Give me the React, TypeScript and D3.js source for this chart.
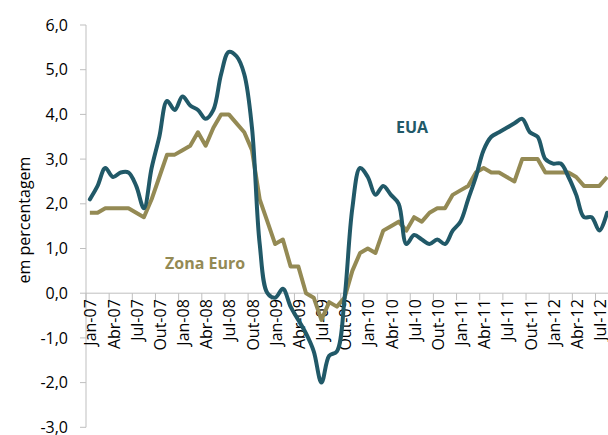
import React from "react";
import * as d3 from "d3";

const months: string[] = (() => {
  const names = ["Jan", "Fev", "Mar", "Abr", "Mai", "Jun", "Jul", "Ago", "Set", "Out", "Nov", "Dez"];
  const out: string[] = [];
  for (let y = 7; y <= 12; y++) {
    for (let m = 0; m < 12; m++) {
      out.push(`${names[m]}-${String(y).padStart(2, "0")}`);
    }
  }
  return out.slice(0, 68); // Jan-07 .. Ago-12
})();

const eua: number[] = [
  2.1, 2.4, 2.8, 2.6, 2.7, 2.7, 2.4, 1.9, 2.8, 3.5, 4.3, 4.1,
  4.4, 4.2, 4.1, 3.9, 4.1, 4.9, 5.4, 5.3, 4.9, 3.7, 1.1, 0.0,
  -0.1, 0.1, -0.3, -0.6, -0.9, -1.3, -2.0, -1.4, -1.3, -0.1, 1.9, 2.8,
  2.6, 2.2, 2.4, 2.2, 2.0, 1.1, 1.3, 1.2, 1.1, 1.2, 1.1, 1.4,
  1.6, 2.1, 2.6, 3.2, 3.5, 3.6, 3.7, 3.8, 3.9, 3.6, 3.5, 3.0,
  2.9, 2.9, 2.6, 2.2, 1.7, 1.7, 1.4, 1.8,
];

const zonaEuro: number[] = [
  1.8, 1.8, 1.9, 1.9, 1.9, 1.9, 1.8, 1.7, 2.1, 2.6, 3.1, 3.1,
  3.2, 3.3, 3.6, 3.3, 3.7, 4.0, 4.0, 3.8, 3.6, 3.2, 2.1, 1.6,
  1.1, 1.2, 0.6, 0.6, 0.0, -0.1, -0.6, -0.2, -0.3, -0.1, 0.5, 0.9,
  1.0, 0.9, 1.4, 1.5, 1.6, 1.4, 1.7, 1.6, 1.8, 1.9, 1.9, 2.2,
  2.3, 2.4, 2.7, 2.8, 2.7, 2.7, 2.6, 2.5, 3.0, 3.0, 3.0, 2.7,
  2.7, 2.7, 2.7, 2.6, 2.4, 2.4, 2.4, 2.6,
];

const yTicks: number[] = [-3, -2, -1, 0, 1, 2, 3, 4, 5, 6];
const xLabels: string[] = months.filter((_, i) => i % 3 === 0);

const COLOR_EUA = "#215968";
const COLOR_EURO = "#948A54";
const AXIS = "#bfbfbf";
const FONT = "'Open Sans', sans-serif";

export default function App() {
  const W = 608;
  const H = 435;
  const x0 = 86;
  const step = 7.72;
  const x = d3.scaleBand<string>().domain(months).range([x0, x0 + months.length * step]).padding(0);
  const y = d3.scaleLinear().domain([-3, 6]).range([427.3, 25]);
  const cx = (i: number) => (x(months[i]) as number) + x.bandwidth() / 2;

  const lineEuro = d3
    .line<number>()
    .x((_, i) => cx(i))
    .y((d) => y(d));
  const lineEua = d3
    .line<number>()
    .x((_, i) => cx(i))
    .y((d) => y(d))
    .curve(d3.curveCatmullRom.alpha(0.5));

  const fmt = (v: number) => v.toFixed(1).replace(".", ",");

  return (
    <svg
      width={W}
      height={H}
      style={{ position: "absolute", left: 0, top: 0, background: "#fff" }}
      fontFamily={FONT}
    >
      {/* y axis */}
      <line x1={x0} x2={x0} y1={y(6)} y2={y(-3)} stroke={AXIS} strokeWidth={1} />
      {yTicks.map((t) => (
        <g key={t}>
          <line x1={x0 - 6} x2={x0} y1={y(t)} y2={y(t)} stroke={AXIS} strokeWidth={1} />
          <text x={68} y={y(t)} dy="0.35em" textAnchor="end" fontSize={16} fill="#000">
            {fmt(t)}
          </text>
        </g>
      ))}
      <text
        transform={`translate(30,${220}) rotate(-90)`}
        textAnchor="middle"
        fontSize={16}
        fill="#000"
      >
        em percentagem
      </text>

      {/* zero line / x axis */}
      <line x1={x0} x2={W} y1={y(0)} y2={y(0)} stroke={AXIS} strokeWidth={1} />
      {months.map((m, i) =>
        i % 3 === 0 ? (
          <line
            key={m}
            x1={x(m) as number}
            x2={x(m) as number}
            y1={y(0)}
            y2={y(0) + 7}
            stroke={AXIS}
            strokeWidth={1}
          />
        ) : null
      )}
      {xLabels.map((m) => {
        const px = (x(m) as number) + x.bandwidth() / 2 + 1;
        const py = y(0) + 6;
        return (
          <text
            key={m}
            transform={`translate(${px},${py}) rotate(-90)`}
            textAnchor="end"
            dy="0.35em"
            fontSize={16}
            fill="#000"
          >
            {m}
          </text>
        );
      })}

      {/* series */}
      <path d={lineEuro(zonaEuro) || ""} fill="none" stroke={COLOR_EURO} strokeWidth={4} strokeLinejoin="round" />
      <path d={lineEua(eua) || ""} fill="none" stroke={COLOR_EUA} strokeWidth={4} strokeLinejoin="round" strokeLinecap="round" />

      {/* labels */}
      <text x={396} y={133} fontSize={16} fontWeight="bold" fill={COLOR_EUA}>
        EUA
      </text>
      <text x={165} y={269} fontSize={16} fontWeight="bold" fill={COLOR_EURO}>
        Zona Euro
      </text>
    </svg>
  );
}
